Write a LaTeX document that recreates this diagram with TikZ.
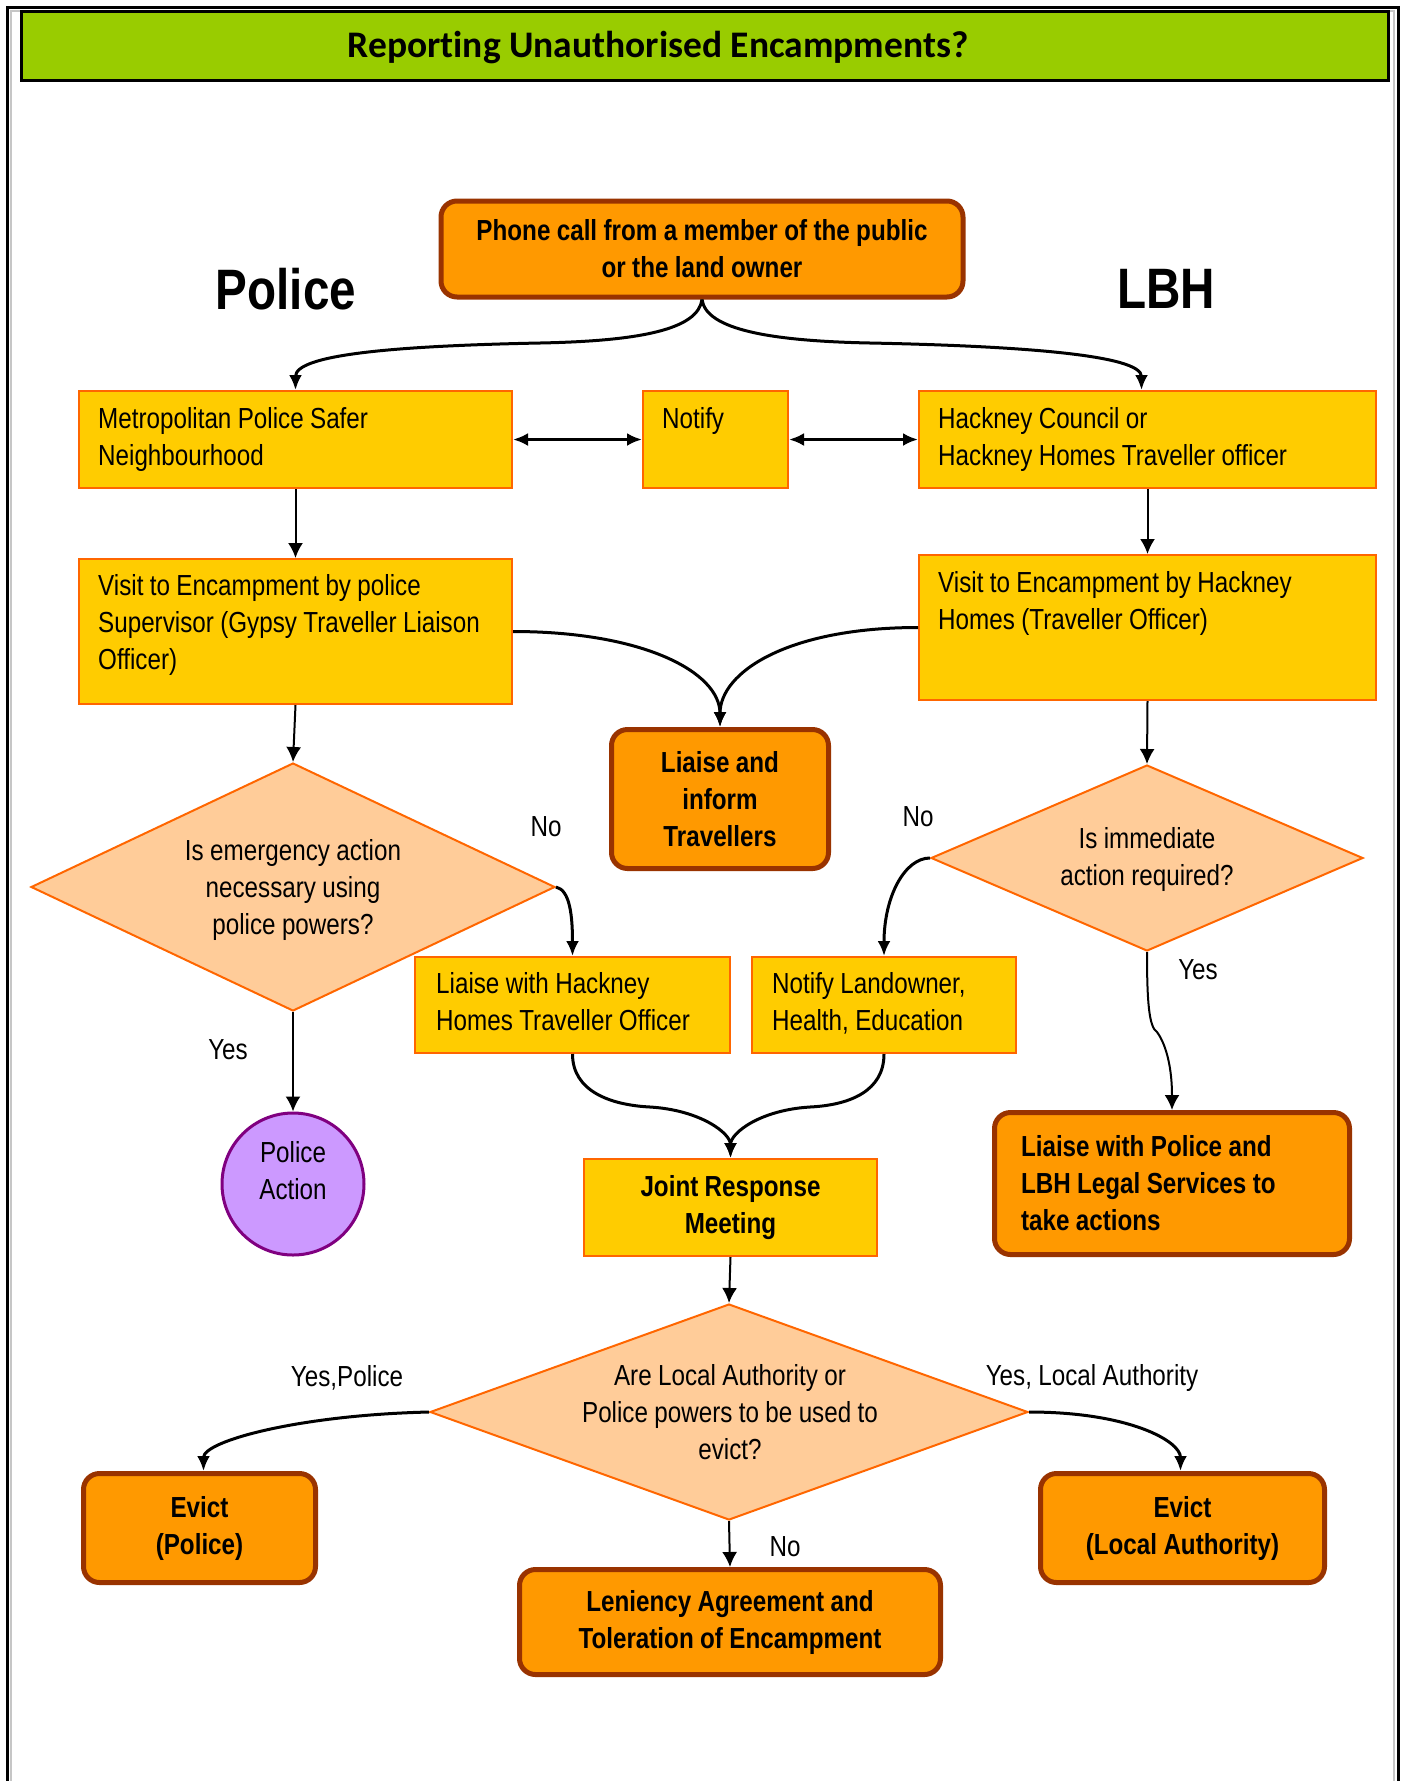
\documentclass[tikz,border=0pt]{standalone}
\usepackage{fontspec}
\setmainfont{Liberation Sans}[FakeStretch=0.835, WordSpace=0.95]
\newfontfamily\titlefont{Carlito}[Ligatures=NoCommon]
\usetikzlibrary{shapes.geometric,arrows.meta,calc}
\definecolor{cYel}{HTML}{FFCC00}
\definecolor{cEdge}{HTML}{FF6600}
\definecolor{cOr}{HTML}{FF9900}
\definecolor{cBrown}{HTML}{993300}
\definecolor{cPeach}{HTML}{FFCC99}
\definecolor{cGreen}{HTML}{99CC00}
\definecolor{cPurp}{HTML}{CC99FF}
\definecolor{cPurpEdge}{HTML}{800080}
\tikzset{
  yelbox/.style={rectangle, fill=cYel, draw=cEdge, line width=2pt, inner sep=0pt},
  orbox/.style={rectangle, rounded corners=16pt, fill=cOr, draw=cBrown, line width=5pt, inner sep=0pt, align=center, font=\bfseries\fontsize{29}{37}\selectfont},
  diam/.style={diamond, fill=cPeach, draw=cEdge, line width=2pt, inner sep=0pt},
  txt/.style={inner sep=0pt, font=\fontsize{29}{37}\selectfont, align=center},
  ltxt/.style={inner sep=0pt, font=\fontsize{29}{37}\selectfont, anchor=base west, align=flush left, text width=#1},
  arr/.style={-{Latex[length=15pt,width=15pt]}, line width=2pt},
  carr/.style={-{Latex[length=15pt,width=13pt]}, line width=3pt},
  darr/.style={{Latex[length=15pt,width=13pt]}-{Latex[length=15pt,width=13pt]}, line width=3pt}
}
\begin{document}
\begin{tikzpicture}[x=1pt,y=-1pt]
\useasboundingbox (0,0) rectangle (1404,1781);
% outer frame
\draw[gray!45, line width=2pt] (11,1781) -- (11,11) -- (1394,11) -- (1394,1781);
\draw[black, line width=3pt] (7,1781) -- (7,7) -- (1398,7) -- (1398,1781);
% title bar
\node[rectangle, fill=cGreen, draw=black, line width=3.5pt, minimum width=1367pt, minimum height=69pt, inner sep=0pt] (title) at (705,46) {};
\node[inner sep=0pt, font=\titlefont\bfseries\fontsize{37.5}{42}\selectfont] (titletext) at (658,48) {Reporting Unauthorised Encampments?};
% side headings
\node[inner sep=0pt, font=\bfseries\fontsize{57}{60}\selectfont] (police) at (286,289) {Police};
\node[inner sep=0pt, font=\bfseries\fontsize{57}{60}\selectfont] (lbh) at (1166,289) {LBH};
% boxes
\node[orbox, minimum width=522pt, minimum height=96pt] (phone) at (702,249) {Phone call from a member of the public\\or the land owner};
\node[yelbox, minimum width=433pt, minimum height=97pt] (metro) at (295.5,439.5) {};
\node[yelbox, minimum width=145pt, minimum height=97pt] (notify) at (715.5,439.5) {};
\node[yelbox, minimum width=457pt, minimum height=97pt] (hc) at (1147.5,439.5) {};
\node[yelbox, minimum width=433pt, minimum height=145pt] (vp) at (295.5,631.5) {};
\node[yelbox, minimum width=457pt, minimum height=145pt] (vh) at (1147.5,627.5) {};
\node[orbox, minimum width=217pt, minimum height=139pt] (liaise) at (720,799) {Liaise and\\inform\\Travellers};
\node[diam, minimum width=524pt, minimum height=248pt] (ld) at (293,887) {};
\node[diam, minimum width=432pt, minimum height=186pt] (rd) at (1147,858) {};
\node[yelbox, minimum width=315pt, minimum height=96pt] (lh) at (572.5,1005) {};
\node[yelbox, minimum width=264pt, minimum height=96pt] (nl) at (884,1005) {};
\node[circle, fill=cPurp, draw=cPurpEdge, line width=3pt, minimum size=142pt, inner sep=0pt] (pa) at (293,1184) {};
\node[yelbox, minimum width=293pt, minimum height=97pt, align=center, font=\bfseries\fontsize{29}{37}\selectfont] (joint) at (730.5,1207.5) {Joint Response\\Meeting};
\node[orbox, minimum width=355pt, minimum height=142pt, align=flush left, text width=302pt] (lp) at (1172,1183.5) {Liaise with Police and\\LBH Legal Services to\\take actions};
\node[diam, minimum width=598pt, minimum height=216pt] (bd) at (729,1412) {};
\node[orbox, minimum width=232pt, minimum height=109pt] (ep) at (199.5,1528) {Evict\\(Police)};
\node[orbox, minimum width=284pt, minimum height=109pt] (ela) at (1182.5,1528) {Evict\\(Local Authority)};
\node[orbox, minimum width=421pt, minimum height=105pt] (len) at (730,1622) {Leniency Agreement and\\Toleration of Encampment};
% texts in boxes
\node[ltxt=400pt] (metrot) at (98,428) {Metropolitan Police Safer\\Neighbourhood};
\node[ltxt=120pt] (notifyt) at (662,428) {Notify};
\node[ltxt=430pt] (hct) at (938,428) {Hackney Council or\\Hackney Homes Traveller officer};
\node[ltxt=410pt] (vpt) at (98,595) {Visit to Encampment by police\\Supervisor (Gypsy Traveller Liaison\\Officer)};
\node[ltxt=430pt] (vht) at (938,592) {Visit to Encampment by Hackney\\Homes (Traveller Officer)};
\node[ltxt=300pt] (lht) at (436,993) {Liaise with Hackney\\Homes Traveller Officer};
\node[ltxt=250pt] (nlt) at (772,993) {Notify Landowner,\\Health, Education};
\node[txt] (ldt) at (293,890) {Is emergency action\\necessary using\\police powers?};
\node[txt] (rdt) at (1147,859) {Is immediate\\action required?};
\node[txt] (bdt) at (730,1412) {Are Local Authority or\\Police powers to be used to\\evict?};
\node[txt] (pat) at (293,1171) {Police\\Action};
% connector labels
\node[txt] (no1) at (546,827) {No};
\node[txt] (no2) at (918,817) {No};
\node[txt] (yes1) at (1198,970) {Yes};
\node[txt] (yes2) at (228,1050) {Yes};
\node[txt] (yesp) at (347,1378) {Yes,Police};
\node[txt] (yesla) at (1092,1378) {Yes, Local Authority};
\node[txt] (no3) at (785,1547) {No};
% helper coordinates
\coordinate (pmL) at (540,343);
\coordinate (pmR) at (870,343);
\coordinate (kink) at (1157,1032);
\coordinate (jmL) at (650,1107);
\coordinate (jmR) at (810,1107);
% connectors
\draw[carr] (phone.south) .. controls +(-4,30) and +(100,-2) .. (pmL) .. controls +(-150,3) and +(0,-35) .. (metro.north);
\draw[carr] (phone.south) .. controls +(4,30) and +(-100,-2) .. (pmR) .. controls +(150,3) and +(0,-35) .. ($(hc.north)+(-6,0)$);
\draw[darr] (metro.east) -- (notify.west);
\draw[darr] (notify.east) -- (hc.west);
\draw[arr] (metro.south) -- (vp.north);
\draw[arr] (hc.south) -- (vh.north);
\draw[carr] (vp.east) .. controls +(130,0) and +(0,-55) .. (liaise.north);
\draw[carr] (vh.west) .. controls +(-130,0) and +(0,-55) .. (liaise.north);
\draw[arr] (vp.south) -- (ld.north);
\draw[arr] (vh.south) -- (rd.north);
\draw[carr] (ld.east) .. controls +(14,3) and +(0,-40) .. (lh.north);
\draw[carr] (rd.west) .. controls +(-25,0) and +(0,-60) .. (nl.north);
\draw[arr] (rd.south) .. controls +(0,50) and +(-8,-5) .. (kink) .. controls +(6,8) and +(0,-50) .. (lp.north);
\draw[arr] (ld.south) -- (pa.north);
\draw[carr] (lh.south) .. controls +(0,37) and +(-40,-2) .. (jmL) .. controls +(50,3) and +(0,-25) .. (joint.north);
\draw[carr] (nl.south) .. controls +(0,37) and +(40,-2) .. (jmR) .. controls +(-50,3) and +(0,-25) .. (joint.north);
\draw[arr] (joint.south) -- (bd.north);
\draw[carr] (bd.west) .. controls +(-130,3) and +(0,-30) .. ($(ep.north)+(4,0)$);
\draw[carr] (bd.east) .. controls +(100,0) and +(0,-30) .. ($(ela.north)+(-2,0)$);
\draw[arr] (bd.south) -- (len.north);
\end{tikzpicture}
\end{document}
